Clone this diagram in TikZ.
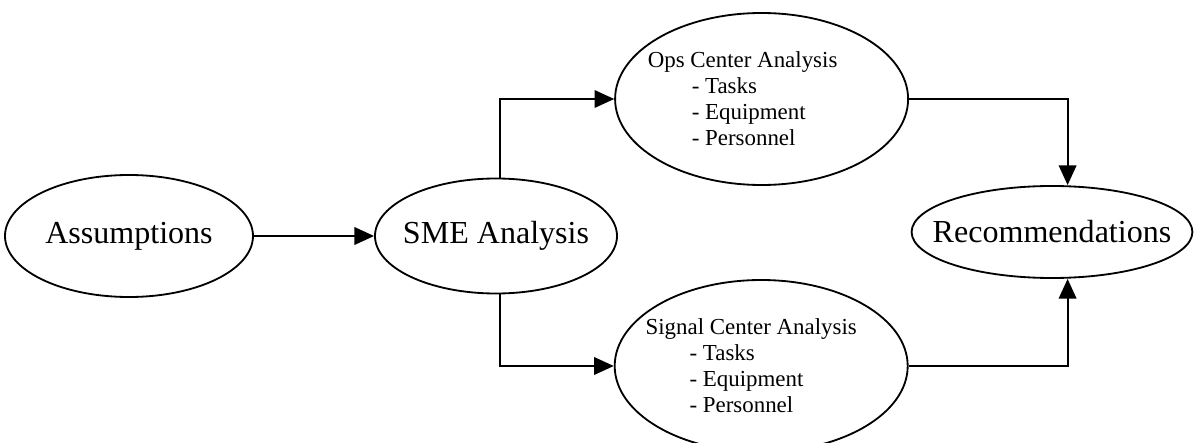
\documentclass[tikz,border=0pt]{standalone}
\usepackage{fontspec}
\setmainfont{Liberation Serif}
\usetikzlibrary{arrows.meta, positioning, shapes.geometric}

\begin{document}
\begin{tikzpicture}[line width=1.3pt,
          oval/.style={draw,ellipse,inner xsep=-0.5cm,inner ysep=-0.3cm,
                       font=\fontsize{22.8}{27}\selectfont},
          listoval/.style={oval,align=left,
                       font=\fontsize{16.3}{18.5}\selectfont},
          arr/.style={-{Triangle[length=14pt,width=12.5pt]}}]
        \useasboundingbox (0,0) rectangle (29.925,11.05);
        \node[oval,minimum width=6.2cm,minimum height=3.05cm](assum) at (3.225,5.15){Assumptions};
        \node[oval,minimum width=6.05cm,minimum height=2.875cm](sme) at (12.4,5.15){SME Analysis};
        \node[listoval,minimum width=7.325cm,minimum height=4.3cm](ops) at (19.04,8.575){
          Ops Center Analysis\hspace*{0.95cm}\\
          \hspace*{1.1cm}- Tasks\\
          \hspace*{1.1cm}- Equipment\\
          \hspace*{1.1cm}- Personnel
        };
        \node[listoval,minimum width=7.325cm,minimum height=4.3cm](sig) at (19.03,1.9){
          Signal Center Analysis\hspace*{0.5cm}\\
          \hspace*{1.1cm}- Tasks\\
          \hspace*{1.1cm}- Equipment\\
          \hspace*{1.1cm}- Personnel
        };
        \node[oval,minimum width=7.0cm,minimum height=2.3cm](rec) at (26.3,5.25){Recommendations};
        \draw[arr](assum)--(sme);
        \draw[arr]([xshift=1mm]sme.north)|-(ops.west);
        \draw[arr]([xshift=1mm]sme.south)|-(sig.west);
        \draw[arr](ops.east)-|([xshift=3.9mm]rec.north);
        \draw[arr](sig.east)-|([xshift=3.9mm]rec.south);
      \end{tikzpicture}
\end{document}
